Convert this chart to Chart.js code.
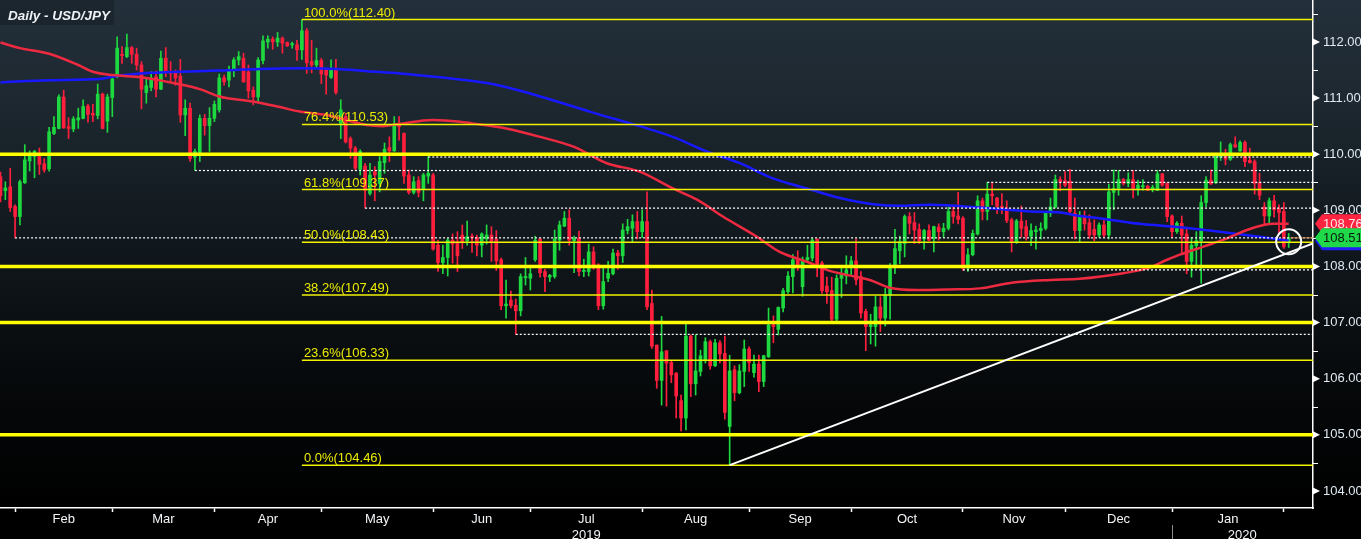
<!DOCTYPE html>
<html><head><meta charset="utf-8">
<script src="https://cdn.jsdelivr.net/npm/chart.js@4.4.1/dist/chart.umd.min.js"></script>
<style>html,body{margin:0;padding:0;background:#000;overflow:hidden}#wrap{width:1361px;height:539px;position:relative}canvas{display:block}</style>
</head><body><div id="wrap"><canvas id="c" width="1361" height="539"></canvas></div>
<script>
// ---- candle data (index = trading day from 29 Jan 2019) ----
const OPEN=[109.60,109.35,109.42,109.07,108.89,109.49,109.88,109.96,109.96,109.83,109.74,110.37,110.46,111.02,110.49,110.45,110.61,110.64,110.86,110.73,110.69,111.07,110.59,111.01,111.38,111.78,111.74,111.90,111.78,111.59,111.10,111.19,111.38,111.16,111.71,111.47,111.46,111.39,110.70,110.82,109.95,110.03,110.64,110.51,110.64,110.79,111.36,111.32,111.50,111.68,111.71,111.47,111.14,111.02,111.67,112.00,112.05,112.00,112.07,111.99,111.95,111.95,111.86,112.20,111.65,111.59,111.67,111.50,111.37,111.50,110.55,110.67,110.28,110.11,109.73,109.79,109.30,109.69,109.48,109.85,110.12,110.06,110.55,110.37,109.63,109.32,109.53,109.38,109.61,109.63,108.38,108.07,108.16,108.47,108.44,108.56,108.46,108.54,108.52,108.38,108.49,108.56,108.49,108.12,107.30,107.40,107.31,107.21,107.80,107.79,108.12,108.49,107.91,107.81,107.82,108.47,108.72,108.86,108.46,108.50,107.91,107.91,108.26,108.03,107.30,107.79,107.87,108.24,108.19,108.64,108.68,108.80,108.62,108.80,107.34,106.60,105.97,106.50,106.29,106.10,105.61,105.30,106.76,105.91,106.13,106.32,106.66,106.23,106.64,106.45,105.15,106.16,105.75,106.13,106.53,106.11,106.26,105.95,106.39,106.96,106.88,107.26,107.55,107.82,108.13,107.64,108.12,108.15,108.49,108.06,107.65,107.57,107.06,107.79,107.83,107.99,108.10,107.82,107.20,106.93,106.93,107.28,107.08,107.49,108.01,108.28,108.41,108.89,108.78,108.66,108.49,108.64,108.50,108.70,108.62,108.68,108.98,108.90,108.86,107.97,108.21,108.58,109.17,108.98,109.29,109.22,109.07,109.04,108.83,108.44,108.81,108.71,108.54,108.62,108.64,108.68,108.95,109.06,109.55,109.53,109.52,108.95,108.64,108.89,108.78,108.66,108.56,108.74,108.56,109.32,109.39,109.55,109.48,109.55,109.39,109.42,109.43,109.38,109.36,109.65,109.48,108.90,108.62,108.77,108.58,108.09,108.37,108.46,109.14,109.54,109.49,109.95,109.97,109.91,110.17,110.06,110.21,109.89,109.87,109.49,109.06,108.90,109.17,109.04,108.98,108.44];
const HIGH=[109.68,109.51,109.75,109.10,109.54,110.17,110.06,110.07,110.11,109.92,110.48,110.67,111.06,111.14,110.65,110.67,110.82,110.97,110.89,110.89,111.25,111.09,111.07,111.41,112.09,111.92,112.14,111.92,111.89,111.65,111.35,111.47,111.48,111.84,111.90,111.65,111.50,111.69,110.97,110.91,110.09,110.70,110.71,110.83,110.95,111.43,111.41,111.57,111.72,111.83,111.80,111.59,111.20,111.72,112.11,112.11,112.09,112.17,112.09,112.00,112.00,112.03,112.40,112.24,112.03,111.89,111.71,111.51,111.68,111.69,110.97,110.73,110.31,110.14,110.08,109.84,109.84,109.78,109.96,110.20,110.31,110.67,110.67,110.38,109.72,109.60,109.60,109.66,109.96,109.66,108.47,108.38,108.50,108.58,108.62,108.74,108.81,108.58,108.56,108.60,108.74,108.71,108.64,108.15,107.76,107.56,107.42,107.87,108.16,107.97,108.54,108.50,107.95,107.86,108.65,108.81,108.98,109.01,108.54,108.63,108.13,108.40,108.35,108.05,107.99,108.09,108.31,108.29,108.76,108.84,108.92,108.98,109.01,109.33,107.58,106.60,107.11,106.50,106.32,106.11,105.71,106.99,106.78,106.78,106.51,106.73,106.69,106.70,106.68,106.76,106.42,106.23,106.25,106.69,106.57,106.42,106.42,106.42,107.26,107.12,107.28,107.61,107.91,108.21,108.28,108.17,108.38,108.50,108.49,108.09,107.81,107.81,107.85,107.97,108.19,108.18,108.49,107.91,107.24,107.15,107.47,107.46,107.61,108.05,108.66,108.54,108.92,108.96,108.96,108.76,108.66,108.74,108.72,108.76,108.77,109.06,109.07,109.32,108.89,108.32,108.65,109.26,109.22,109.50,109.50,109.23,109.30,109.17,108.86,108.84,109.08,108.82,108.76,108.72,108.78,108.98,109.22,109.63,109.60,109.69,109.73,109.22,108.98,108.99,108.92,108.83,108.78,108.83,109.47,109.72,109.71,109.57,109.67,109.71,109.54,109.55,109.45,109.45,109.71,109.66,109.49,108.92,108.80,108.90,108.68,108.52,108.62,109.26,109.60,109.72,110.02,110.22,110.09,110.20,110.31,110.24,110.24,110.11,109.90,109.66,109.14,109.22,109.27,109.10,109.14,108.59];
const LOW=[109.15,109.19,108.98,108.51,108.74,109.48,109.70,109.58,109.64,109.68,109.70,110.35,110.45,110.46,110.28,110.40,110.46,110.63,110.57,110.58,110.63,110.45,110.39,110.67,111.36,111.62,111.72,111.62,111.50,110.81,110.91,111.13,111.02,111.15,111.38,111.30,111.23,110.57,110.33,109.87,109.71,109.87,110.34,110.05,110.58,110.75,111.23,111.20,111.38,111.59,111.28,111.00,110.88,110.94,111.61,111.89,111.87,111.92,111.80,111.92,111.89,111.67,111.69,111.44,111.45,111.53,111.26,111.07,111.35,111.07,110.28,110.20,109.93,109.72,109.63,109.04,109.27,109.17,109.33,109.66,109.87,110.05,110.25,109.48,109.29,109.29,109.24,109.17,109.48,108.29,107.91,107.87,107.83,108.06,107.91,108.32,108.38,108.25,108.19,108.17,108.40,108.09,107.93,107.23,107.08,107.26,106.79,107.12,107.67,107.58,108.09,107.81,107.55,107.73,107.79,108.29,108.71,108.38,107.89,107.83,107.82,107.83,107.95,107.23,107.24,107.73,107.85,107.95,108.07,108.58,108.44,108.49,108.52,107.23,106.54,105.83,105.53,105.51,105.93,105.30,105.07,105.09,105.68,105.71,106.05,106.28,106.17,106.22,106.28,105.28,104.46,105.61,105.73,105.86,106.13,106.03,105.77,105.86,106.38,106.64,106.78,107.19,107.52,107.53,107.93,107.47,108.09,108.10,107.82,107.52,107.34,107.03,107.03,107.45,107.69,107.85,107.67,107.08,106.50,106.62,106.58,106.84,106.94,107.06,107.87,108.05,108.17,108.58,108.41,108.41,108.31,108.46,108.26,108.47,108.52,108.65,108.77,108.76,107.93,107.91,108.19,108.56,108.83,108.83,109.10,108.94,108.94,108.78,108.26,108.41,108.52,108.47,108.37,108.31,108.49,108.65,108.89,109.04,109.35,109.42,108.95,108.49,108.44,108.65,108.50,108.46,108.52,108.52,108.49,109.01,109.27,109.45,109.42,109.22,109.27,109.36,109.35,109.33,109.35,109.43,108.80,108.52,108.59,108.24,107.87,107.81,107.97,107.70,109.06,109.46,109.48,109.89,109.81,109.89,110.12,110.05,109.78,109.84,109.29,109.19,108.74,108.78,108.88,108.59,108.32,108.34];
const CLOSE=[109.26,109.40,109.05,108.89,109.51,109.90,109.99,110.05,109.82,109.72,110.40,110.48,111.02,110.47,110.46,110.63,110.65,110.85,110.71,110.70,111.07,110.46,111.02,111.34,111.89,111.76,111.90,111.78,111.59,111.16,111.22,111.36,111.16,111.71,111.47,111.44,111.36,110.70,110.82,109.92,110.05,110.64,110.51,110.64,110.89,111.36,111.29,111.50,111.68,111.74,111.29,111.13,111.02,111.68,112.02,112.05,112.00,112.07,111.98,111.93,111.97,111.86,112.20,111.63,111.59,111.67,111.43,111.41,111.51,111.10,110.79,110.22,110.11,109.75,110.05,109.36,109.63,109.63,109.87,110.09,110.06,110.52,110.49,109.61,109.32,109.51,109.32,109.63,109.66,108.31,108.07,108.16,108.47,108.40,108.19,108.44,108.53,108.52,108.38,108.58,108.56,108.44,108.10,107.30,107.33,107.30,107.21,107.82,107.82,107.87,108.47,107.89,107.82,107.84,108.49,108.74,108.86,108.47,108.50,107.91,107.93,108.26,107.97,107.30,107.73,107.88,108.24,108.19,108.65,108.71,108.80,108.62,108.80,107.28,106.58,105.97,106.48,106.28,106.07,105.69,105.30,106.76,105.91,106.14,106.41,106.66,106.23,106.64,106.44,105.40,106.14,105.75,106.14,106.53,106.29,106.26,105.95,106.41,106.96,106.93,107.27,107.57,107.83,108.12,108.03,108.10,108.16,108.47,108.03,107.57,107.55,107.06,107.79,107.85,107.94,108.10,107.76,107.17,106.93,106.96,107.28,107.08,107.49,108.01,108.32,108.44,108.89,108.77,108.65,108.46,108.64,108.47,108.71,108.62,108.68,108.98,108.89,108.84,107.97,108.21,108.59,109.17,108.98,109.29,109.26,109.07,109.04,108.82,108.44,108.81,108.68,108.54,108.64,108.65,108.68,108.95,109.06,109.55,109.51,109.45,108.98,108.64,108.89,108.76,108.56,108.56,108.74,108.56,109.33,109.39,109.55,109.48,109.55,109.39,109.45,109.44,109.36,109.41,109.65,109.45,108.89,108.62,108.77,108.56,108.09,108.38,108.46,109.14,109.54,109.47,109.97,109.97,109.91,110.17,110.13,110.21,109.87,109.85,109.48,109.27,108.90,109.17,109.01,108.96,108.35,108.51];

// ---- moving averages (sampled points) ----
const MA_RED_X=[0,4,10,16,19,23,29,36,41,45,52,57.5,61.6,67,75.4,78.7,82,89,94.5,97,104,111,118,124.7,131.5,138.3,143.3,148.6,155.6,160.3,166,170,174,178.8,183,188.5,195,201.5,208,216,222,231,236,240,242.6,247.3,252.3,256.4,259,261.7,265];
const MA_RED_Y=[111.99,111.89,111.79,111.59,111.47,111.41,111.37,111.26,111.16,111.03,110.94,110.84,110.76,110.70,110.52,110.50,110.54,110.61,110.58,110.55,110.46,110.31,110.13,109.84,109.69,109.39,109.19,108.89,108.53,108.26,108.08,107.94,107.85,107.76,107.62,107.58,107.59,107.61,107.71,107.76,107.78,107.88,107.97,108.12,108.21,108.35,108.50,108.65,108.72,108.76,108.76];
const MA_BLUE_X=[0,10,20.5,23,31,37,44.5,53.4,61.6,69.2,75.4,82.2,90.4,100.7,111,121.2,131.5,138.3,145.3,152.1,158.9,165.9,172.7,179.5,185,191.2,201.5,211.7,218,222,226,234.4,242.6,250.8,259,265];
const MA_BLUE_Y=[111.28,111.32,111.34,111.38,111.45,111.47,111.49,111.52,111.53,111.52,111.48,111.44,111.37,111.26,111.03,110.76,110.50,110.31,110.05,109.84,109.57,109.39,109.22,109.11,109.08,109.10,109.05,108.98,108.96,108.90,108.86,108.76,108.70,108.62,108.53,108.46];

// ---- levels ----
const FIB_PCT=['100.0%','76.4%','61.8%','50.0%','38.2%','23.6%','0.0%'];
const FIB_VAL=[112.40,110.53,109.37,108.43,107.49,106.33,104.46];
const FIB_START=62;
const KEY_LEVELS=[110,108,107,105];
const DOT_LEVELS=[108.51,109.71,109.95,109.04,109.50,107.94,106.79];
const DOT_START=[3,40,88,75,203,198,106];
const TREND_X=[150,270], TREND_Y=[104.46,108.41];
const CIRCLE_X=[265], CIRCLE_Y=[108.44];
const LAST_PRICE=108.51;

// ---- axes ----
const X_MIN=-0.1, X_MAX=270, Y_MIN=103.697, Y_MAX=112.748;
const MONTH_START=[3,23,44,66,89,109,132,154,175,198,219,241,264];
const MONTH_NAMES=['Feb','Mar','Apr','May','Jun','Jul','Aug','Sep','Oct','Nov','Dec','Jan'];
const YEAR_POS=[120.5,255.45], YEAR_TEXT=['2019','2020'];
const YEAR_SPLIT=241;
const Y_MAJOR=[104,105,106,107,108,109,110,111,112];
const Y_MINOR=[104.5,105.5,106.5,107.5,108.5,109.5,110.5,111.5,112.5];
const TAG_VAL=[108.46,108.76,108.51], TAG_TEXT=['108.46','108.76','108.51'];
const TAG_BG=['#1e1ef5','#ff2440','#1fd94a'], TAG_FG=['#ffffff','#ffe8ec','#0a1a0a'];

const GREEN='#1ed83f', RED='#ff1f3d';
const FONT='"Liberation Sans", Arial, sans-serif';

const xTickDefs=[];
MONTH_START.forEach(v=>xTickDefs.push({value:v,label:'',b:true}));
MONTH_NAMES.forEach((m,k)=>{
  const mid=(MONTH_START[k]+MONTH_START[k+1])/2;
  const yi=YEAR_POS.indexOf(mid);
  xTickDefs.push({value:mid,label: yi>=0?[m,YEAR_TEXT[yi]]:m,b:false});
});
YEAR_POS.forEach((p,k)=>{ if(!xTickDefs.some(t=>t.value===p)) xTickDefs.push({value:p,label:['',YEAR_TEXT[k]],b:false}); });
xTickDefs.sort((a,b)=>a.value-b.value);

const idx=OPEN.map((_,i)=>i);
const candleColor=ctx=>CLOSE[ctx.dataIndex]>=OPEN[ctx.dataIndex]?GREEN:RED;
const hline=(y,x0,x1,color,w,dash,order)=>({type:'line',data:[{x:x0,y},{x:x1,y}],borderColor:color,borderWidth:w,borderDash:dash||[],pointRadius:0,order:order,fill:false});

const datasets=[
  {type:'bar',data:idx.map(i=>({x:i,y:[LOW[i],HIGH[i]]})),backgroundColor:candleColor,barThickness:1,grouped:false,order:11,borderWidth:0},
  {type:'bar',data:idx.map(i=>({x:i,y:[OPEN[i],CLOSE[i]]})),backgroundColor:candleColor,barThickness:3,minBarLength:1,grouped:false,order:10,borderWidth:0},
  {type:'line',data:MA_RED_X.map((x,k)=>({x,y:MA_RED_Y[k]})),borderColor:'#ee2a40',borderWidth:2.5,pointRadius:0,cubicInterpolationMode:'monotone',order:6},
  {type:'line',data:MA_BLUE_X.map((x,k)=>({x,y:MA_BLUE_Y[k]})),borderColor:'#1818ff',borderWidth:2.5,pointRadius:0,cubicInterpolationMode:'monotone',order:6},
];
DOT_LEVELS.forEach((v,k)=>datasets.push(hline(v,DOT_START[k],X_MAX,'#ffffff',1.2,[2,2],5)));
FIB_VAL.forEach(v=>datasets.push(hline(v,FIB_START,X_MAX,'#f2f200',1.5,null,4)));
KEY_LEVELS.forEach(v=>datasets.push(hline(v,X_MIN,X_MAX,'#ffff00',3.5,null,3)));
datasets.push({type:'line',data:TREND_X.map((x,k)=>({x,y:TREND_Y[k]})),borderColor:'#ffffff',borderWidth:2,pointRadius:0,order:2});
datasets.push(hline(LAST_PRICE,265.4,X_MAX,'#d08040',1,null,2));
datasets.push({type:'scatter',data:CIRCLE_X.map((x,k)=>({x,y:CIRCLE_Y[k]})),pointRadius:12.5,pointBorderColor:'#ffffff',pointBorderWidth:2,pointBackgroundColor:'rgba(0,0,0,0)',showLine:false,order:1});

const zeroPad=s=>{s.paddingLeft=0;s.paddingRight=0;s.paddingTop=0;s.paddingBottom=0;};

const bgPlugin={id:'bg',beforeDraw(chart){
  const c=chart.ctx;const g=c.createLinearGradient(0,0,0,508);
  g.addColorStop(0,'#232f3a');g.addColorStop(0.2,'#1d2830');g.addColorStop(0.4,'#141c22');
  g.addColorStop(0.6,'#0c1115');g.addColorStop(0.8,'#050708');g.addColorStop(1,'#000000');
  c.save();c.fillStyle=g;c.fillRect(0,0,chart.width,508);c.fillStyle='#000';c.fillRect(0,508,chart.width,chart.height-508);c.restore();
}};
const fibPlugin={id:'fib',afterDatasetsDraw(chart){
  const c=chart.ctx,xs=chart.scales.x,ys=chart.scales.y;
  c.save();c.font='13px '+FONT;c.fillStyle='#ecec00';c.textAlign='left';c.textBaseline='alphabetic';
  FIB_VAL.forEach((v,k)=>{c.fillText(FIB_PCT[k]+'('+v.toFixed(2)+')',xs.getPixelForValue(FIB_START)+2,ys.getPixelForValue(v)-3);});
  c.restore();
}};
const decoPlugin={id:'deco',afterDraw(chart){
  const c=chart.ctx,ys=chart.scales.y,xs=chart.scales.x,r=chart.chartArea.right;
  c.save();
  c.fillStyle='#ffffff';c.strokeStyle='#ffffff';c.lineWidth=1;
  Y_MAJOR.forEach(v=>{const y=ys.getPixelForValue(v);c.beginPath();c.moveTo(r,y-3.5);c.lineTo(r+7,y);c.lineTo(r,y+3.5);c.closePath();c.fill();});
  Y_MINOR.forEach(v=>{const y=Math.round(ys.getPixelForValue(v))+0.5;c.beginPath();c.moveTo(r,y);c.lineTo(r+5,y);c.stroke();});
  // value tags
  TAG_VAL.forEach((v,k)=>{const y=ys.getPixelForValue(v);const h=19;
    c.fillStyle=TAG_BG[k];c.beginPath();c.moveTo(r+2,y);c.lineTo(r+9,y-h/2);c.lineTo(chart.width,y-h/2);c.lineTo(chart.width,y+h/2);c.lineTo(r+9,y+h/2);c.closePath();c.fill();
    c.fillStyle=TAG_FG[k];c.font='13px '+FONT;c.textBaseline='middle';c.textAlign='left';c.fillText(TAG_TEXT[k],r+10,y+1);});
  // year split
  const sx=Math.round(xs.getPixelForValue(YEAR_SPLIT))+0.5;
  c.strokeStyle='#8a8a8a';c.beginPath();c.moveTo(sx,525);c.lineTo(sx,539);c.stroke();
  // title
  c.fillStyle='rgba(0,0,0,0.18)';c.fillRect(0,0,114,25);
  c.fillStyle='#eef2f5';c.font='italic bold 13.5px '+FONT;c.textBaseline='alphabetic';c.textAlign='left';c.fillText('Daily - USD/JPY',8,20);
  c.restore();
}};

new Chart(document.getElementById('c'),{
  type:'bar',
  data:{datasets},
  plugins:[bgPlugin,fibPlugin,decoPlugin],
  options:{
    responsive:false,animation:false,devicePixelRatio:1,
    layout:{padding:0,autoPadding:false},
    plugins:{legend:{display:false},tooltip:{enabled:false},title:{display:false}},
    scales:{
      x:{type:'linear',position:'bottom',min:X_MIN,max:X_MAX,offset:false,
        afterBuildTicks(s){s.ticks=xTickDefs.map(t=>({value:t.value}));},
        afterFit(s){s.height=31;zeroPad(s);},
        ticks:{autoSkip:false,maxRotation:0,minRotation:0,padding:0,color:'#f2f5f8',font:{family:FONT,size:13},
          callback(v){const t=xTickDefs.find(d=>d.value===v);return t?t.label:'';}},
        grid:{display:true,offset:false,drawOnChartArea:false,drawTicks:true,tickLength:4,tickWidth:1.5,
          tickColor(ctx){const t=xTickDefs.find(d=>d.value===(ctx.tick&&ctx.tick.value));return t&&t.b?'#ffffff':'rgba(0,0,0,0)';}},
        border:{display:true,color:'#ffffff',width:1.5}},
      y:{type:'linear',position:'right',min:Y_MIN,max:Y_MAX,
        afterBuildTicks(s){s.ticks=Y_MAJOR.map(v=>({value:v}));},
        afterFit(s){s.width=48;zeroPad(s);},
        ticks:{padding:10,color:'#dfe9f2',font:{family:FONT,size:13},callback:v=>Number(v).toFixed(2)},
        grid:{display:true,drawOnChartArea:false,drawTicks:false},
        border:{display:true,color:'#ffffff',width:1.5}}
    }
  }
});
</script></body></html>
